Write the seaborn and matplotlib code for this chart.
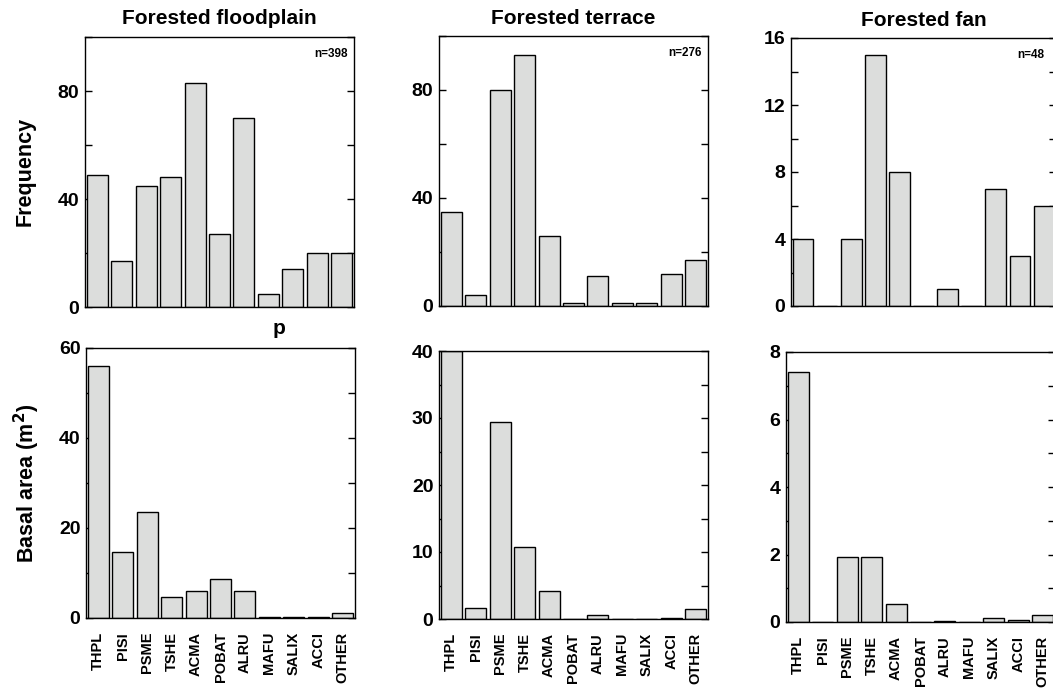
import matplotlib
matplotlib.use("Agg")
import matplotlib.pyplot as plt
from matplotlib.ticker import MultipleLocator
import seaborn as sns
import pandas as pd

species = ["THPL", "PISI", "PSME", "TSHE", "ACMA", "POBAT", "ALRU",
           "MAFU", "SALIX", "ACCI", "OTHER"]

freq_floodplain = [49, 17, 45, 48, 83, 27, 70, 5, 14, 20, 20]
freq_terrace = [35, 4, 80, 93, 26, 1, 11, 1, 1, 12, 17]
freq_fan = [4, 0, 4, 15, 8, 0, 1, 0, 7, 3, 6]

basal_floodplain = [56, 14.7, 23.6, 4.7, 6.1, 8.7, 6.1, 0.2, 0.2, 0.2, 1.1]
basal_terrace = [40, 1.6, 29.4, 10.7, 4.2, 0, 0.65, 0, 0, 0.15, 1.5]
basal_fan = [7.4, 0, 1.92, 1.92, 0.52, 0, 0.04, 0, 0.11, 0.07, 0.2]

titles = ["Forested floodplain", "Forested terrace", "Forested fan"]
n_labels = ["n=398", "n=276", "n=48"]

sns.set_style("ticks")
plt.rcParams["font.family"] = ["Liberation Sans", "DejaVu Sans"]
plt.rcParams["font.weight"] = "bold"
for key in ["text.color", "axes.labelcolor", "xtick.color", "ytick.color", "axes.edgecolor"]:
    plt.rcParams[key] = "black"

W, H = 1053, 689
fig = plt.figure(figsize=(W / 100, H / 100), dpi=100)


def add_ax(left, top, right, bottom):
    return fig.add_axes([left / W, 1 - bottom / H, (right - left) / W, (bottom - top) / H])


top_axes = [add_ax(85, 37, 354, 307), add_ax(439, 36, 708, 306), add_ax(791, 38, 1056, 306)]
bot_axes = [add_ax(86, 348, 355, 618), add_ax(439, 351, 708, 619), add_ax(786, 352, 1055, 622)]

freqs = [freq_floodplain, freq_terrace, freq_fan]
basals = [basal_floodplain, basal_terrace, basal_fan]
top_ylim = [100, 100, 16]
top_major = [40, 40, 4]
top_minor = [20, 20, 2]
bot_ylim = [60, 40, 8]
bot_major = [20, 10, 2]
bot_minor = [10, 5, 1]
n_offsets = [6, 6, 12]

bar_color = "#dcdddc"


def style_ax(ax, ymax, major, minor, show_x):
    ax.set_xlim(-0.5, len(species) - 0.5)
    ax.set_ylim(0, ymax)
    ax.yaxis.set_major_locator(MultipleLocator(major))
    ax.yaxis.set_minor_locator(MultipleLocator(minor))
    ax.tick_params(axis="y", which="both", direction="in", left=True, right=True,
                   length=5, width=1, labelsize=14, pad=4, colors="black")
    ax.tick_params(axis="x", which="both", length=0, colors="black")
    for lbl in ax.get_yticklabels():
        lbl.set_fontweight("bold")
    if show_x:
        ax.tick_params(axis="x", labelsize=10.5, pad=10, labelrotation=90)
        for lbl in ax.get_xticklabels():
            lbl.set_fontweight("bold")
    else:
        ax.set_xticklabels([])
    ax.set_xlabel("")
    ax.set_ylabel("")
    for sp in ax.spines.values():
        sp.set_visible(True)
        sp.set_linewidth(1.0)
        sp.set_color("black")


for i in range(3):
    df_top = pd.DataFrame({"species": species, "value": freqs[i]})
    ax = top_axes[i]
    sns.barplot(data=df_top, x="species", y="value", order=species, ax=ax,
                color=bar_color, saturation=1, edgecolor="black", linewidth=1.0,
                width=0.86)
    style_ax(ax, top_ylim[i], top_major[i], top_minor[i], False)
    ax.set_title(titles[i], fontsize=15, fontweight="bold", pad=9, color="black")
    ax.annotate(n_labels[i], xy=(1, 1), xycoords="axes fraction",
                xytext=(-n_offsets[i] * 0.72, -12), textcoords="offset points",
                ha="right", va="center", fontsize=8.5, fontweight="bold", color="black")

    df_bot = pd.DataFrame({"species": species, "value": basals[i]})
    ax = bot_axes[i]
    sns.barplot(data=df_bot, x="species", y="value", order=species, ax=ax,
                color=bar_color, saturation=1, edgecolor="black", linewidth=1.0,
                width=0.86)
    style_ax(ax, bot_ylim[i], bot_major[i], bot_minor[i], True)

fig.text(25 / W, 1 - 171.7 / H, "Frequency", rotation=90, ha="center", va="center",
         fontsize=15.5, fontweight="bold", color="black")
fig.text(27 / W, 1 - 483 / H, "Basal area (m$\\mathbf{^2}$)", rotation=90, ha="center",
         va="center", fontsize=15.5, fontweight="bold", color="black")
fig.text(279 / W, 1 - 328 / H, "p", ha="center", va="center", fontsize=15,
         fontweight="bold", color="black")

fig.savefig("out.png", dpi=100, facecolor="white")
